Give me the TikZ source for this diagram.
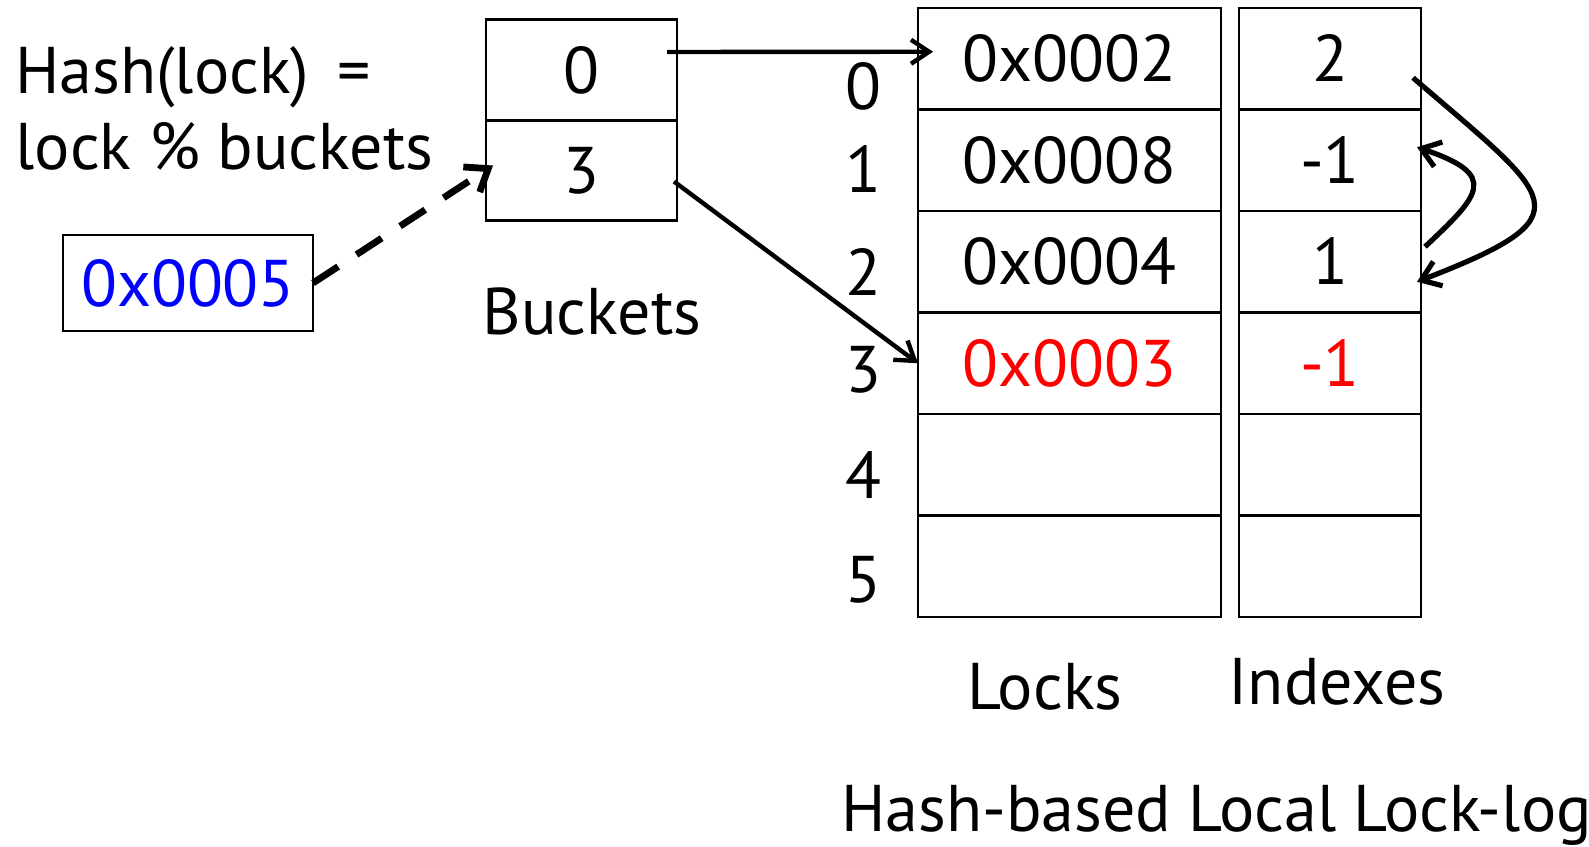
\documentclass[tikz,border=0pt]{standalone}
\usepackage{fontspec}
\setmainfont{PT Sans}
\usetikzlibrary{arrows.meta,calc}
\definecolor{keyblue}{RGB}{0,0,255}
\definecolor{newred}{RGB}{255,0,0}
\tikzset{
  big/.style={font=\fontsize{33pt}{40pt}\selectfont},
  cell/.style={draw, line width=1.3pt, big, inner sep=0pt, outer sep=0pt,
    text height=23pt, text depth=0pt},
  lockcell/.style={cell, minimum width=151.5pt, minimum height=50.75pt},
  idxcell/.style={cell, minimum width=91pt, minimum height=50.75pt},
  bucketcell/.style={cell, minimum width=95.5pt, minimum height=50.25pt},
  label/.style={big, inner sep=0pt, anchor=base},
  ptr/.style={line width=2.2pt, -{Straight Barb[length=9pt,width=12pt]}},
  link/.style={line width=2.6pt, -{Straight Barb[length=9pt,width=13pt]}},
  lookup/.style={line width=3.4pt, dash pattern=on 15pt off 11pt,
    -{Straight Barb[length=10pt,width=15pt]}},
}
\begin{document}
\begin{tikzpicture}[x=0.5pt,y=-0.5pt]
\useasboundingbox (0,0) rectangle (1589,846);

% hash function
\node[label, anchor=base west] (h1) at (15,93) {Hash(lock) \,=};
\node[label, anchor=base west] (h2) at (15,169) {lock \% buckets};

% lock being looked up
\node[cell, minimum width=125pt, minimum height=48pt, text=keyblue] (key) at (188,283) {0x0005};

% buckets
\node[bucketcell] (B0) at (581.5,70) {0};
\node[bucketcell] (B3) at (581.5,170.5) {3};
\node[label] (bl) at (592,334) {Buckets};

% lock-log: locks and indexes
\node[lockcell] (L0) at (1069.5,58.75) {0x0002};
\node[lockcell] (L1) at (1069.5,160.25) {0x0008};
\node[lockcell] (L2) at (1069.5,261.75) {0x0004};
\node[lockcell, text=newred] (L3) at (1069.5,363.25) {0x0003};
\node[lockcell] (L4) at (1069.5,464.75) {};
\node[lockcell] (L5) at (1069.5,566.25) {};

\node[idxcell] (I0) at (1330,58.75) {2};
\node[idxcell] (I1) at (1330,160.25) {-1};
\node[idxcell] (I2) at (1330,261.75) {1};
\node[idxcell, text=newred] (I3) at (1330,363.25) {-1};
\node[idxcell] (I4) at (1330,464.75) {};
\node[idxcell] (I5) at (1330,566.25) {};

% row numbers
\node[label] (r0) at (863,109) {0};
\node[label] (r1) at (863,192) {1};
\node[label] (r2) at (863,295) {2};
\node[label] (r3) at (863,392) {3};
\node[label] (r4) at (863,498) {4};
\node[label] (r5) at (863,602) {5};

\node[label] (ll) at (1045,709) {Locks};
\node[label] (il) at (1337,704) {Indexes};
\node[label, anchor=base west] (title) at (841,831) {Hash-based Local Lock-log};

% pointers
\draw[lookup] (key.east) -- ($(B3.west)+(7,-5)$);
\draw[ptr] ($(B0.east)+(-10,-18)$) -- ($(L0.west)+(15,-7)$);
\draw[ptr] ($(B3.east)+(-3,11)$) -- (L3.west);

% chain links between index entries
\draw[link] ($(I0.east)+(-8,19)$) .. controls (1555,200) and (1590,215) .. ($(I2.east)+(-4,20)$);
\draw[link] ($(I2.east)+(4,-15)$) .. controls (1480,195) and (1500,175) .. ($(I1.east)+(-4,-13)$);
\end{tikzpicture}
\end{document}
